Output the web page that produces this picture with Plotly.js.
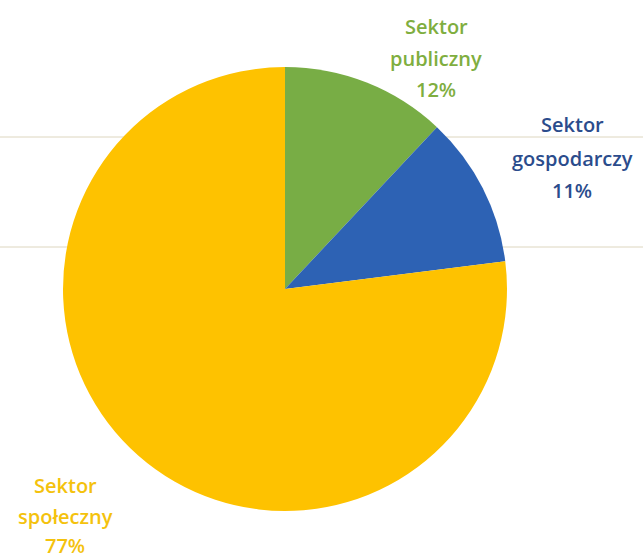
<!DOCTYPE html>
<html>
<head>
<meta charset="utf-8">
<script src="https://cdn.plot.ly/plotly-3.0.1.min.js"></script>
<style>html,body{margin:0;padding:0;background:#fff;}#chart{width:643px;height:559px;}</style>
</head>
<body>
<div id="chart"></div>
<script>
// Data
const categories = ["Sektor publiczny", "Sektor gospodarczy", "Sektor społeczny"];
const shares = [12, 11, 77];
const sliceColors = ["#78ad45", "#2d62b4", "#fec200"];
const textColors = ["#7fae3f", "#2b4c8c", "#f4c20d"];

// Label block positions (pixel centres of each line) - layout only
const labelX = [436, 572, 65];
const labelLineY = [[27, 58, 89], [124, 158, 190], [485, 516, 545]];

const W = 643, H = 559;
const cx = 285, cy = 289, r = 222;

const annotations = [];
categories.forEach((cat, i) => {
  const parts = cat.split(" ");
  const lines = [parts[0], parts.slice(1).join(" "), shares[i] + "%"];
  lines.forEach((t, j) => {
    annotations.push({
      xref: "paper", yref: "paper",
      x: labelX[i] / W, y: 1 - labelLineY[i][j] / H,
      xanchor: "center", yanchor: "middle",
      text: t, showarrow: false,
      font: {family: "Open Sans, sans-serif", size: 20, weight: 600, color: textColors[i]}
    });
  });
});

const shapes = [137, 247].map(y => ({
  type: "line", xref: "paper", yref: "paper", layer: "below",
  x0: 0, x1: 1, y0: 1 - y / H, y1: 1 - y / H,
  line: {color: "#ddd6bf", width: 1}
}));

const trace = {
  type: "pie",
  labels: categories,
  values: shares,
  sort: false,
  direction: "clockwise",
  rotation: 0,
  marker: {colors: sliceColors, line: {width: 0}},
  textinfo: "none",
  hoverinfo: "label+percent",
  domain: {x: [(cx - r) / W, (cx + r) / W], y: [(H - cy - r) / H, (H - cy + r) / H]},
  showlegend: false
};

Plotly.newPlot("chart", [trace], {
  width: W, height: H,
  margin: {l: 0, r: 0, t: 0, b: 0},
  paper_bgcolor: "#ffffff",
  plot_bgcolor: "#ffffff",
  annotations: annotations,
  shapes: shapes,
  showlegend: false
}, {displayModeBar: false, staticPlot: true});
</script>
</body>
</html>
